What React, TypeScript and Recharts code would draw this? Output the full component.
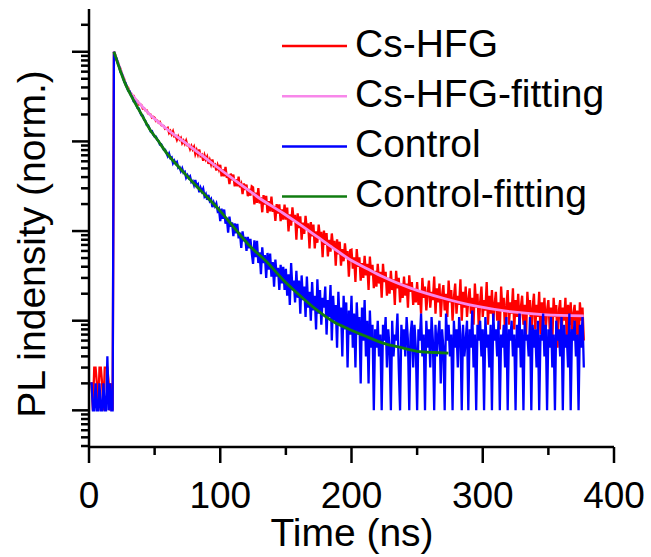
import React from 'react';
import { LineChart, Line, XAxis, YAxis, Legend } from 'recharts';

// TCSPC channels: 1 ns wide, first channel at 1 ns
const channelStart = 1;
const channelWidth = 1;
const peakCounts = 10000;

// raw decay counts (Cs-HFG film)
const csHfgCounts = [
  2, 2, 1, 3, 3, 2, 1, 3, 3, 2, 1, 3, 3, 3, 2, 1, 2, 1,
  10000,
  9280, 8050, 7680, 6830, 6490, 5640, 5250, 4890, 4270, 4110,
  3910, 3520, 3460, 3210, 3220, 2960, 2880, 2810, 2580, 2600,
  2530, 2330, 2340, 2220, 2220, 2050, 2020, 1990, 1840, 1880,
  1840, 1690, 1710, 1620, 1650, 1520, 1500, 1490, 1380, 1390,
  1418, 1241, 1306, 1195, 1295, 1140, 1156, 1042, 1139, 1049,
  1097, 959, 1020, 938, 1022, 905, 914, 819, 890, 815,
  870, 723, 799, 713, 811, 687, 710, 608, 701, 627,
  675, 561, 621, 554, 629, 534, 551, 473, 544, 486,
  549, 407, 488, 407, 519, 393, 430, 334, 438, 370,
  426, 316, 379, 316, 405, 308, 335, 259, 340, 287,
  330, 245, 295, 248, 315, 307, 198, 268, 206, 301,
  203, 237, 162, 252, 197, 247, 159, 216, 166, 243,
  164, 191, 130, 200, 157, 198, 129, 175, 134, 197,
  134, 183, 99, 154, 115, 184, 128, 152, 80, 158,
  108, 146, 80, 124, 93, 148, 103, 122, 64, 126,
  87, 118, 64, 99, 74, 118, 83, 98, 51, 101,
  70, 95, 52, 80, 59, 94, 66, 78, 41, 81,
  55, 76, 41, 63, 46, 73, 50, 60, 31, 61,
  62, 38, 51, 27, 63, 40, 51, 28, 44, 30,
  53, 32, 43, 22, 52, 32, 42, 23, 36, 24,
  43, 26, 35, 18, 43, 27, 35, 19, 30, 20,
  36, 22, 29, 15, 36, 23, 30, 16, 26, 18,
  31, 19, 26, 14, 32, 21, 27, 15, 23, 16,
  27, 15, 22, 12, 30, 18, 24, 13, 20, 28, 14, 21, 17, 31, 12, 23, 16, 26, 11, 19,
  25, 13, 20, 11, 28, 16, 22, 10, 18, 26, 12, 19, 15, 29, 10, 21, 14, 24, 11, 17,
  23, 12, 18, 9, 26, 14, 20, 8, 16, 24, 11, 17, 13, 27, 9, 19, 12, 22, 10, 15,
  21, 10, 16, 8, 24, 13, 18, 7, 15, 22, 9, 16, 12, 23, 8, 17, 11, 20, 9, 14,
  19, 9, 15, 7, 21, 12, 17, 6, 14, 20, 8, 15, 11, 21, 7, 16, 10, 18, 8, 13,
  17, 8, 14, 6, 18, 11, 15, 5, 13, 17, 7, 14, 10, 18, 6, 15, 9, 16, 7, 12,
  15, 7, 13, 5, 16, 10, 14, 6,
];

// raw decay counts (control film)
const controlCounts = [
  2, 2, 1, 1, 2, 1, 1, 2, 1, 1, 2, 1, 1, 4, 1, 2, 1, 1,
  10000,
  8870, 8430, 7330, 6770, 5920, 5680, 5100, 4590, 4440, 3950,
  3670, 3610, 3250, 3100, 2800, 2770, 2560, 2350, 2330, 2100,
  1960, 1940, 1750, 1690, 1520, 1510, 1400, 1290, 1300, 1190,
  1130, 1130, 1040, 1010, 926, 930, 865, 806, 809, 743,
  684, 734, 652, 664, 572, 610, 565, 589, 507, 517,
  466, 501, 447, 458, 394, 420, 390, 407, 352, 362,
  326, 371, 318, 332, 271, 304, 276, 297, 245, 259,
  223, 253, 217, 228, 185, 208, 189, 203, 168, 177,
  129, 178, 137, 174, 121, 140, 96, 145, 112, 125,
  88, 122, 94, 120, 83, 96, 65, 99, 77, 86,
  60, 86, 64, 82, 57, 43, 79, 51, 78, 44,
  58, 33, 66, 44, 54, 30, 57, 37, 56, 31,
  45, 24, 48, 31, 39, 22, 42, 26, 40, 22,
  38, 19, 33, 15, 44, 22, 28, 16, 36, 18,
  28, 12, 32, 17, 24, 11, 31, 14, 21, 10,
  27, 13, 19, 8, 29, 12, 22, 9, 18, 14,
  24, 7, 17, 11, 25, 6, 19, 10, 15, 5,
  21, 9, 14, 4, 19, 8, 16, 3, 13, 7,
  19, 5, 12, 3, 16, 7, 11, 2, 14, 6, 17, 4, 10, 2, 13, 5, 9,
  1, 8, 5, 10, 4, 7, 1, 9, 6, 11, 3, 8, 5, 1, 10, 4, 7, 6, 12, 3,
  1, 9, 5, 8, 4, 11, 6, 1, 7, 10, 3, 9, 5, 1, 8, 6, 12, 4, 7, 1,
  10, 5, 8, 3, 11, 6, 1, 9, 4, 7, 10, 2, 8, 5, 1, 12, 6, 9, 4, 7,
  1, 10, 5, 8, 3, 11, 7, 1, 9, 4, 6, 10, 1, 8, 5, 13, 3, 7, 1, 9,
  6, 10, 4, 8, 1, 11, 5, 7, 3, 9, 1, 12, 6, 8, 4, 10, 1, 7, 5, 9,
  3, 11, 1, 8, 6, 10, 4, 7, 1, 9, 5, 12, 3, 8, 1, 10, 6, 7, 4, 11,
  1, 9, 5, 8, 3, 10, 1, 7, 6, 12, 4, 9, 1, 8, 5, 11, 3, 7, 1, 10,
  6, 8, 4, 11, 1, 9, 5, 7, 3, 12, 1, 8, 6, 10, 4, 7, 1, 9, 5, 11,
  3,
];

// fitted curves (normalized)
const csHfgFitTime = [19, 22, 25, 28.7, 35, 40, 46.5, 55, 60, 72, 80, 90, 97, 110, 123, 128, 148, 160, 173.5, 186, 199, 212, 224, 245, 270, 295, 321, 346, 377];
const csHfgFitValue = [1, 0.759, 0.575, 0.41, 0.302, 0.251, 0.198, 0.155, 0.135, 0.0998, 0.0813, 0.0631, 0.0525, 0.038, 0.0275, 0.0243, 0.0158, 0.012, 0.00871, 0.00646, 0.00479, 0.0038, 0.00309, 0.00231, 0.00178, 0.00145, 0.00126, 0.00117, 0.00113];

const controlFitTime = [19, 21, 23.6, 28, 33.8, 40, 46.5, 52, 59.2, 69.3, 84.6, 100, 115, 122.7, 135, 148, 160, 173.5, 186, 199, 212, 224, 238, 252, 263, 273.8];
const controlFitValue = [1, 0.818, 0.631, 0.427, 0.291, 0.2, 0.135, 0.105, 0.0741, 0.0501, 0.0288, 0.0167, 0.0091, 0.00676, 0.0046, 0.00285, 0.00195, 0.00132, 0.00098, 0.000794, 0.00066, 0.000562, 0.0005, 0.000452, 0.000442, 0.000434];

const legendOrder = ['Cs-HFG', 'Cs-HFG-fitting', 'Control', 'Control-fitting'];

const xMajorTicks = [0, 100, 200, 300, 400];
const xMinorTicks = [50, 150, 250, 350];
const yMajorTicks = [1e-4, 1e-3, 1e-2, 1e-1, 1];
const yMinorTicks = [
  4e-5, 5e-5, 6e-5, 7e-5, 8e-5, 9e-5,
  2e-4, 3e-4, 4e-4, 5e-4, 6e-4, 7e-4, 8e-4, 9e-4,
  2e-3, 3e-3, 4e-3, 5e-3, 6e-3, 7e-3, 8e-3, 9e-3,
  0.02, 0.03, 0.04, 0.05, 0.06, 0.07, 0.08, 0.09,
  0.2, 0.3, 0.4, 0.5, 0.6, 0.7, 0.8, 0.9,
  2,
];

const FONT = '"Liberation Sans", Arial, sans-serif';
const AXIS = { stroke: '#000', strokeWidth: 2.5 };

const toDecay = (counts: number[]) =>
  counts.map((c, i) => ({ t: channelStart + i * channelWidth, v: c / peakCounts }));
const toFit = (time: number[], value: number[]) => time.map((t, i) => ({ t, v: value[i] }));

const csHfgData = toDecay(csHfgCounts);
const controlData = toDecay(controlCounts);
const csHfgFit = toFit(csHfgFitTime, csHfgFitValue);
const controlFit = toFit(controlFitTime, controlFitValue);

const XTick = (props: any) => {
  const { x, y, payload } = props;
  const major = xMajorTicks.includes(payload.value);
  return (
    <g>
      <line x1={x} y1={y} x2={x} y2={y + (major ? 16 : 8)} stroke="#000" strokeWidth={2.5} />
      {major && (
        <text x={x} y={y + 61} textAnchor="middle" fontSize={37} fontFamily={FONT} fill="#000">
          {payload.value}
        </text>
      )}
    </g>
  );
};

const YTick = (props: any) => {
  const { x, y, payload } = props;
  const len = yMajorTicks.includes(payload.value) ? 17 : 8;
  return <line x1={x} y1={y} x2={x - len} y2={y} stroke="#000" strokeWidth={2.5} />;
};

const renderLegend = (props: any) => {
  const items = [...(props.payload || [])].sort(
    (a: any, b: any) => legendOrder.indexOf(a.value) - legendOrder.indexOf(b.value)
  );
  return (
    <svg width={350} height={215}>
      {items.map((entry: any, i: number) => (
        <g key={entry.value}>
          <line x1={12} x2={77} y1={36 + i * 50.2} y2={36 + i * 50.2} stroke={entry.color} strokeWidth={2.5} />
          <text x={85} y={46.5 + i * 50.2} fontSize={39} fontFamily={FONT} fill="#000">
            {entry.value}
          </text>
        </g>
      ))}
    </svg>
  );
};

export default function App() {
  return (
    <div style={{ position: 'absolute', left: 0, top: 0, width: 651, height: 557, background: '#fff' }}>
      <LineChart width={651} height={557} margin={{ top: 9, right: 37, bottom: 0, left: 0 }}>
        <XAxis
          dataKey="t"
          type="number"
          domain={[0, 400]}
          ticks={[...xMajorTicks, ...xMinorTicks].sort((a, b) => a - b)}
          interval={0}
          height={110}
          tickSize={0}
          tickMargin={0}
          tickLine={false}
          axisLine={AXIS}
          tick={XTick}
          allowDataOverflow
          label={{
            content: () => (
              <text x={352} y={546} textAnchor="middle" fontSize={39} fontFamily={FONT} fill="#000">
                Time (ns)
              </text>
            ),
          }}
        />
        <XAxis xAxisId="top" orientation="top" type="number" domain={[0, 400]} height={0} tick={false} tickLine={false} axisLine={AXIS} />
        <YAxis
          type="number"
          scale="log"
          domain={[3.9e-5, 3]}
          ticks={[...yMajorTicks, ...yMinorTicks]}
          interval={0}
          width={89}
          tickSize={0}
          tickMargin={0}
          tickLine={false}
          axisLine={AXIS}
          tick={YTick}
          allowDataOverflow
          label={{
            content: () => (
              <text transform="translate(45,244) rotate(-90)" textAnchor="middle" fontSize={39} fontFamily={FONT} fill="#000">
                PL indensity (norm.)
              </text>
            ),
          }}
        />
        <YAxis yAxisId="right" orientation="right" type="number" domain={[0, 1]} width={0} tick={false} tickLine={false} axisLine={AXIS} />
        <Legend
          layout="vertical"
          align="center"
          verticalAlign="middle"
          content={renderLegend}
          wrapperStyle={{ left: 270, top: 10, width: 350, height: 215 }}
        />
        <Line data={csHfgData} dataKey="v" name="Cs-HFG" type="linear" stroke="#ff0000" strokeWidth={2.3} dot={false} isAnimationActive={false} />
        <Line data={csHfgFit} dataKey="v" name="Cs-HFG-fitting" type="monotone" stroke="#f887ea" strokeWidth={2.8} dot={false} isAnimationActive={false} />
        <Line data={controlData} dataKey="v" name="Control" type="linear" stroke="#0000ff" strokeWidth={2.3} dot={false} isAnimationActive={false} />
        <Line data={controlFit} dataKey="v" name="Control-fitting" type="monotone" stroke="#107c10" strokeWidth={2.8} dot={false} isAnimationActive={false} />
      </LineChart>
    </div>
  );
}
